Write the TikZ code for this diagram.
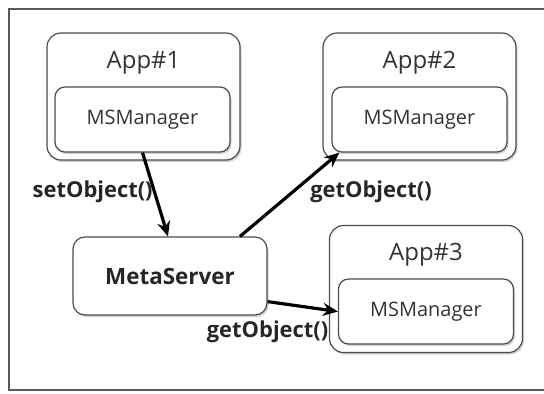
\documentclass[tikz,border=0pt]{standalone}
\usepackage{fontspec}
\setmainfont{Open Sans}
\usepackage{tikz}
\usetikzlibrary{arrows.meta,positioning,shadows}

\begin{document}
\begin{tikzpicture}[x=1bp,y=-1bp,>={Stealth[length=15bp,width=13bp,inset=5bp]},
 app/.style={draw=black!70,line width=1.2bp,fill=white,rounded corners=14bp,
   minimum width=193bp,minimum height=127bp,inner sep=0pt,
   drop shadow={shadow xshift=1.5bp,shadow yshift=-2bp,fill=black!35}},
 mgr/.style={draw=black!70,line width=1.2bp,fill=white,rounded corners=10bp,
   minimum width=175bp,minimum height=65bp,inner sep=0pt,
   font=\fontsize{20}{22}\selectfont,text=black!80,
   drop shadow={shadow xshift=1.5bp,shadow yshift=-2bp,fill=black!35}},
 server/.style={draw=black!70,line width=1.2bp,fill=white,rounded corners=12bp,
   minimum width=194bp,minimum height=78bp,inner sep=0pt,
   font=\bfseries\fontsize{22.5}{24}\selectfont,text=black!85,
   drop shadow={shadow xshift=1.5bp,shadow yshift=-2bp,fill=black!35}},
 title/.style={font=\fontsize{24}{26}\selectfont,text=black!80,inner sep=0pt},
 call/.style={font=\bfseries\fontsize{22}{24}\selectfont,text=black!85,inner sep=1bp},
 arr/.style={->,line width=3.2bp,black}]
\useasboundingbox (0,0) rectangle (544,393);
\draw[black!65,line width=1.4bp] (9,9) rectangle (560,390);

% applications
\node[app] (app1) at (143.5,96.5) {};
\node[title] (t1) at (143.5,63) {App\#1};
\node[mgr] (m1) at (142.5,119.5) {MSManager};

\node[app] (app2) at (419.5,96.5) {};
\node[title] (t2) at (419.5,63) {App\#2};
\node[mgr] (m2) at (419.5,119.5) {MSManager};

\node[app] (app3) at (426,289) {};
\node[title] (t3) at (426,255) {App\#3};
\node[mgr] (m3) at (426,311.5) {MSManager};

% server
\node[server] (srv) at (170,276) {MetaServer};

% calls
\draw[arr] (m1.south) -- node[call,pos=0.5,left=0bp,yshift=3bp] {setObject()} ([xshift=-2bp]srv.north);
\draw[arr] ([xshift=70bp]srv.north) -- node[call,pos=0.5,anchor=west,xshift=18bp,yshift=3bp] {getObject()} ([xshift=8bp]m2.south west);
\draw[arr] ([yshift=14bp]srv.south east) -- node[call,pos=0.9,anchor=north east,yshift=-8bp] {getObject()} (m3.west);
\end{tikzpicture}
\end{document}
